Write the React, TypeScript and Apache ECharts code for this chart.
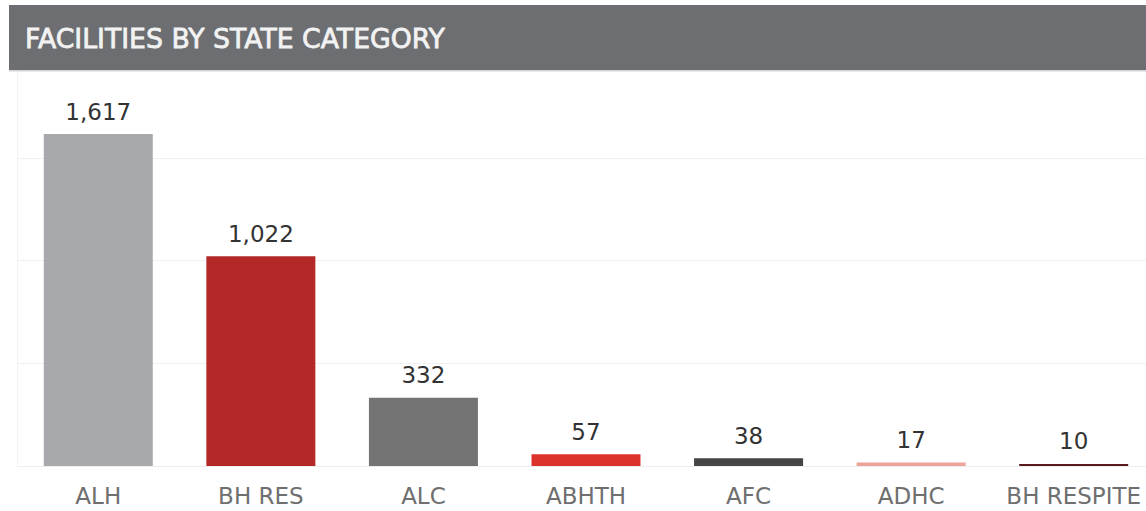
import React, { useEffect, useRef } from "react";
import * as echarts from "echarts";

const title = "FACILITIES BY STATE CATEGORY";
const categories = ["ALH", "BH RES", "ALC", "ABHTH", "AFC", "ADHC", "BH RESPITE"];
const values = [1617, 1022, 332, 57, 38, 17, 10];
const barColors = ["#a7a9ac", "#b52828", "#747474", "#dc322c", "#444444", "#eba398", "#5a1a1c"];

export default function App() {
  const ref = useRef<HTMLDivElement>(null);
  useEffect(() => {
    if (!ref.current) return;
    const chart = echarts.init(ref.current, null, { renderer: "svg" });
    chart.setOption({
      animation: false,
      backgroundColor: "#ffffff",
      textStyle: { fontFamily: "'DejaVu Sans', sans-serif" },
      grid: { left: 17, right: 5, top: 55.4, bottom: 45, containLabel: false },
      xAxis: {
        type: "category",
        data: categories,
        axisLine: { show: true, lineStyle: { color: "#eeeeee", width: 1 } },
        axisTick: { show: false },
        axisLabel: { color: "#6f6f6f", fontSize: 23, margin: 18, interval: 0 },
      },
      yAxis: {
        type: "value",
        min: 0,
        max: 2000,
        interval: 500,
        axisLine: { show: true, lineStyle: { color: "#f3f3f3" } },
        axisTick: { show: false },
        axisLabel: { show: false },
        splitLine: { show: true, lineStyle: { color: "#f0f0f0", width: 1 } },
      },
      series: [
        {
          type: "bar",
          barWidth: 109,
          data: values.map((v, i) => ({ value: v, itemStyle: { color: barColors[i] } })),
          label: {
            show: true,
            position: "top",
            distance: 11,
            color: "#333333",
            fontSize: 23,
            formatter: (p: any) => Number(p.value).toLocaleString("en-US"),
          },
        },
      ],
      graphic: [
        {
          type: "rect",
          z: 100,
          shape: { x: 9, y: 5, width: 1200, height: 65 },
          style: { fill: "#6d6e71" },
        },
        {
          type: "rect",
          z: 100,
          shape: { x: 9, y: 70, width: 1200, height: 1.5 },
          style: { fill: "#d4d4d6" },
        },
        {
          type: "text",
          z: 101,
          x: 25,
          y: 38.5,
          style: {
            text: title,
            fill: "#f2f2f2",
            stroke: "#f2f2f2",
            lineWidth: 0.8,
            fontSize: 26.7,
            fontWeight: "normal",
            fontFamily: "'DejaVu Sans', sans-serif",
            verticalAlign: "middle",
            align: "left",
          },
        },
      ],
    });
    return () => chart.dispose();
  }, []);
  return (
    <div style={{ position: "fixed", left: 0, top: 0, width: 1146, height: 511, overflow: "hidden", background: "#fff" }}>
      <div ref={ref} style={{ width: 1160, height: 511 }} />
    </div>
  );
}
